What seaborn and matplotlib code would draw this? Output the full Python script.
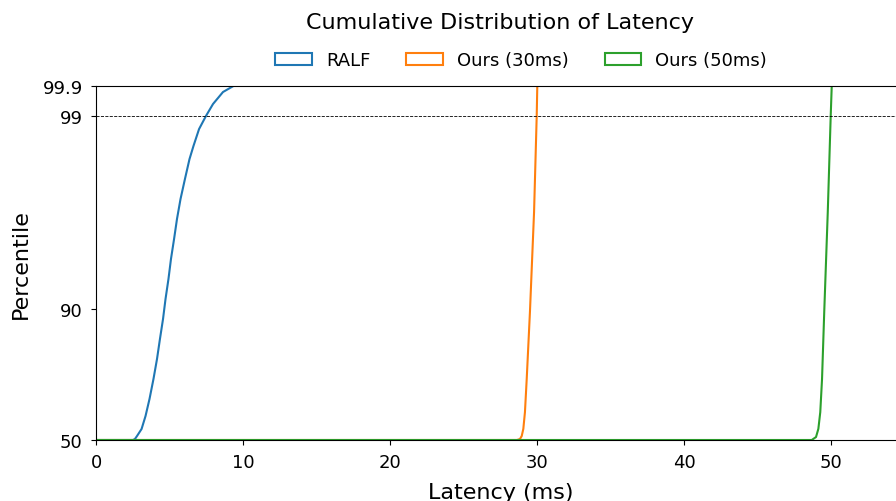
import numpy as np
import pandas as pd
import matplotlib
matplotlib.use("Agg")
import matplotlib.pyplot as plt
import seaborn as sns
from matplotlib.patches import Patch

# values (latency in ms at given percentile)
ralf_pct = [50, 50, 50.31, 51.22, 53.36, 57.33, 62.52, 68.63, 74.73, 80.84, 86.95,
            90.47, 91.40, 92.33, 93.26, 94.20, 95.13, 96.06, 96.99, 97.60, 98.39,
            99.0, 99.36, 99.72, 99.9]
ralf_lat = [0.0, 2.52, 2.65, 2.79, 3.10, 3.37, 3.64, 3.91, 4.15, 4.35, 4.56,
            4.73, 4.93, 5.10, 5.31, 5.51, 5.75, 6.05, 6.36, 6.63, 7.01,
            7.48, 7.96, 8.64, 9.35]

ours30_pct = [50, 50, 50.3, 51.2, 53.4, 58.5, 68.6, 89.1, 94.52, 99.0, 99.9]
ours30_lat = [0.0, 28.64, 28.84, 28.96, 29.07, 29.18, 29.30, 29.52, 29.80, 29.98, 30.02]

ours50_pct = [50, 50, 50.9, 53.4, 58.5, 68.6, 89.1, 94.52, 99.0, 99.9]
ours50_lat = [0.0, 48.69, 48.98, 49.14, 49.27, 49.39, 49.54, 49.78, 49.98, 50.05]

methods = ["RALF", "Ours (30ms)", "Ours (50ms)"]
colors = ["#1f77b4", "#ff7f0e", "#2ca02c"]

y_ticks = [50, 90, 99, 99.9]
y_ticklabels = ["50", "90", "99", "99.9"]
# relative spacing of the percentile ticks on the axis
y_tick_pos = [0, 131, 324, 354]

df = pd.concat([
    pd.DataFrame({"Latency": ralf_lat, "Percentile": ralf_pct, "Method": methods[0]}),
    pd.DataFrame({"Latency": ours30_lat, "Percentile": ours30_pct, "Method": methods[1]}),
    pd.DataFrame({"Latency": ours50_lat, "Percentile": ours50_pct, "Method": methods[2]}),
], ignore_index=True)

fig = plt.figure(figsize=(8.96, 5.02), dpi=100)
ax = fig.add_axes([96 / 896, 1 - 441 / 502, 808.5 / 896, 354 / 502])

sns.lineplot(data=df, x="Latency", y="Percentile", hue="Method", palette=colors,
             sort=False, estimator=None, lw=1.5, legend=False, ax=ax)

fwd = lambda v: np.interp(v, y_ticks, y_tick_pos)
inv = lambda v: np.interp(v, y_tick_pos, y_ticks)
ax.set_yscale("function", functions=(fwd, inv))
ax.set_ylim(50, 99.9)
ax.set_yticks(y_ticks)
ax.set_yticklabels(y_ticklabels)
ax.set_xlim(0, 55)
ax.set_xticks([0, 10, 20, 30, 40, 50])

ax.axhline(99, color="black", ls="--", lw=0.6)

ax.tick_params(labelsize=13, pad=6)
ax.set_xlabel("Latency (ms)", fontsize=16, labelpad=8)
ax.set_ylabel("Percentile", fontsize=16, labelpad=8.5)
ax.set_title("Cumulative Distribution of Latency", fontsize=16, pad=42)

handles = [Patch(facecolor="none", edgecolor=c, lw=1.5) for c in colors]
ax.legend(handles, methods, loc="center", bbox_to_anchor=(0.526, 1.073), ncol=3,
          frameon=False, fontsize=13)

fig.savefig("out.png", dpi=100)
